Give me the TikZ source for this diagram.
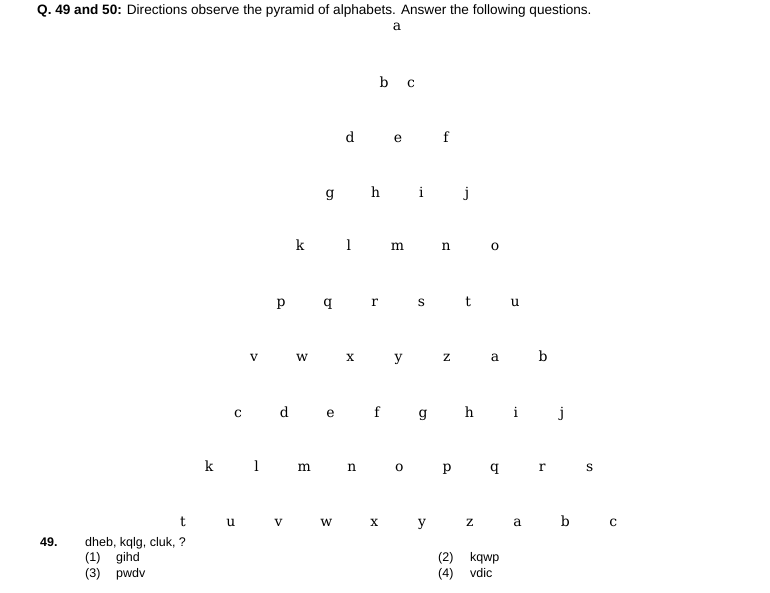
\documentclass[tikz,border=0pt]{standalone}
\usepackage{fontspec}
\newfontfamily\arialfont{Liberation Sans}
\newfontfamily\pyrfont{DejaVu Serif}
\begin{document}
\begin{tikzpicture}[x=1pt, y={(0pt,-1pt)},
  letter/.style={font=\pyrfont\fontsize{14}{17}\selectfont, inner sep=0pt, anchor=base},
  qtext/.style={font=\arialfont\fontsize{12.5}{14}\selectfont, inner sep=0pt, anchor=base west}]
  \useasboundingbox (0,0) rectangle (770,593);

  % heading
  \node[qtext, font=\arialfont\fontsize{13.6}{16}\selectfont] (head) at (37,15)
    {\textbf{Q. 49 and 50:} Directions observe the pyramid of alphabets. Answer the following questions.};

  % pyramid: baseline / first x / spacing / letters
  \foreach \y/\xa/\dx/\row [count=\r] in {
      31/397/0/{a},
      88/384/27/{b,c},
      143/350/48/{d,e,f},
      198/330/45.7/{g,h,i,j},
      251/300/48.75/{k,l,m,n,o},
      306/281/46.8/{p,q,r,s,t,u},
      361/254/48.2/{v,w,x,y,z,a,b},
      417/238/46.3/{c,d,e,f,g,h,i,j},
      471/209/47.6/{k,l,m,n,o,p,q,r,s},
      526/183/47.8/{t,u,v,w,x,y,z,a,b,c}} {
    \foreach \l [count=\i] in \row {
      \node[letter] (L\r-\i) at ({\xa+(\i-1)*\dx},\y) {\l};
    }
  }

  % question 49
  \node[qtext] (qno) at (40,546) {\textbf{49.}};
  \node[qtext] (qseq) at (85,546) {dheb, kqlg, cluk, ?};
  \node[qtext] (opt1) at (85,561) {\makebox[31pt][l]{(1)}gihd};
  \node[qtext] (opt3) at (85,577) {\makebox[31pt][l]{(3)}pwdv};
  \node[qtext] (opt2) at (438,561) {\makebox[32pt][l]{(2)}kqwp};
  \node[qtext] (opt4) at (438,577) {\makebox[32pt][l]{(4)}vdic};
\end{tikzpicture}
\end{document}
